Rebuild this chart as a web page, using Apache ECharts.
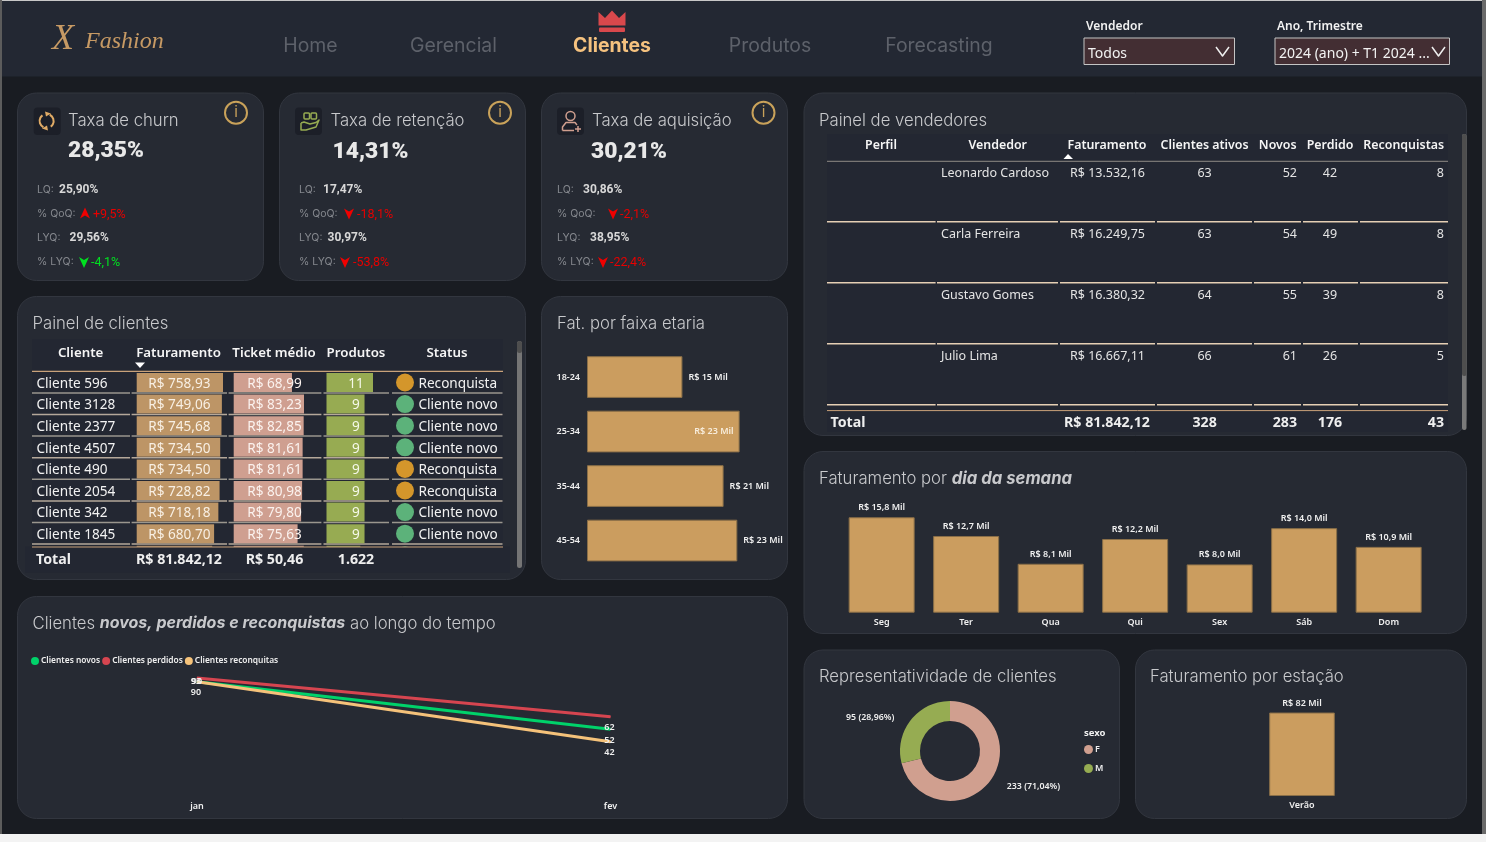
<!DOCTYPE html>
<html><head><meta charset="utf-8">
<script src="https://cdn.jsdelivr.net/npm/echarts@6/dist/echarts.min.js"></script>
<style>html,body{margin:0;padding:0;background:#191c22;overflow:hidden}#c{width:1486px;height:842px}</style>
</head><body><div id="c"></div>
<script>
// ---- data ----
const navItems = ['Home','Gerencial','Clientes','Produtos','Forecasting'];
const kpiTitles = ['Taxa de churn','Taxa de retenção','Taxa de aquisição'];
const kpiValues = ['28,35%','14,31%','30,21%'];
const kpiLQ = ['25,90%','17,47%','30,86%'];
const kpiQoQ = ['+9,5%','-18,1%','-2,1%'];
const kpiLYQ = ['29,56%','30,97%','38,95%'];
const kpiPctLYQ = ['-4,1%','-53,8%','-22,4%'];
const clientNames = ['Cliente 596','Cliente 3128','Cliente 2377','Cliente 4507','Cliente 490','Cliente 2054','Cliente 342','Cliente 1845','Cliente 77'];
const clientRevenue = [758.93,749.06,745.68,734.50,734.50,728.82,718.18,680.70,664.0];
const clientTicket = [68.99,83.23,82.85,81.61,81.61,80.98,79.80,75.63,83.0];
const clientProducts = [11,9,9,9,9,9,9,9,8];
const clientStatus = ['Reconquista','Cliente novo','Cliente novo','Cliente novo','Reconquista','Reconquista','Cliente novo','Cliente novo','Cliente novo'];
const clientHeader = ['Cliente','Faturamento','Ticket médio','Produtos','Status'];
const clientTotals = ['Total','R$ 81.842,12','R$ 50,46','1.622'];
const vendorHeader = ['Perfil','Vendedor','Faturamento','Clientes ativos','Novos','Perdido','Reconquistas'];
const vendorNames = ['Leonardo Cardoso','Carla Ferreira','Gustavo Gomes','Julio Lima'];
const vendorRevenue = ['R$ 13.532,16','R$ 16.249,75','R$ 16.380,32','R$ 16.667,11'];
const vendorActive = [63,63,64,66];
const vendorNew = [52,54,55,61];
const vendorLost = [42,49,39,26];
const vendorBack = [8,8,8,5];
const vendorTotals = ['Total','R$ 81.842,12','328','283','176','43'];
const ageGroups = ['18-24','25-34','35-44','45-54'];
const ageRevenue = [14.6,23.35,20.9,23.0];
const months = ['jan','fev'];
const newClients = [90,52];
const lostClients = [93,62];
const wonBackClients = [90,42];
const weekdays = ['Seg','Ter','Qua','Qui','Sex','Sáb','Dom'];
const weekdayRevenue = [15.8,12.7,8.1,12.2,8.0,14.0,10.9];
const genderNames = ['F','M'];
const genderCounts = [233,95];
const genderPct = ['71,04%','28,96%'];
const seasons = ['Verão'];
const seasonRevenue = [81.84];

// ---- style ----
const TITLE='Inter, sans-serif', TAB='"Noto Sans", sans-serif', KPI='Roboto, sans-serif';
const PANEL='#262a33', BG='#191c22', TBL='#232732', GOLD='#cb9d5f', EDGE='#8a6f48';
const g=[];
function T(x,y,text,o={}){g.push({type:'text',x,y:y+1,z:o.z??1,silent:true,style:{text,fill:o.color||'#eee',
  fontFamily:o.font||TAB,fontSize:o.size||13,fontWeight:o.weight||'normal',fontStyle:o.style||'normal',
  textAlign:o.align||'left',textVerticalAlign:'middle',rich:o.rich}});}
function R(x,y,w,h,fill,o={}){g.push({type:'rect',z:o.z??-2,silent:true,shape:{x,y,width:w,height:h,r:o.r||0},style:{fill,stroke:o.stroke||null,lineWidth:o.lw||0}});}
function L(pts,stroke,lw,o={}){g.push({type:'polyline',z:o.z??1,silent:true,shape:{points:pts},style:{stroke,lineWidth:lw,fill:null,lineCap:o.cap||'butt',lineJoin:'round'}});}
function PG(pts,fill,o={}){g.push({type:'polygon',z:o.z??1,silent:true,shape:{points:pts},style:{fill}});}
function C(cx,cy,r,stroke,lw,fill){g.push({type:'circle',z:1,silent:true,shape:{cx,cy,r},style:{stroke,lineWidth:lw,fill:fill||null}});}
function A(cx,cy,r,s,e,stroke,lw){g.push({type:'arc',z:1,silent:true,shape:{cx,cy,r,startAngle:s,endAngle:e,clockwise:true},style:{stroke,lineWidth:lw,fill:null}});}
function panel(x0,y0,x1,y1){R(x0,y0,x1-x0,y1-y0,PANEL,{r:19,stroke:'#32363f',lw:1});}

// frame
R(0,0,1486,842,BG,{z:-3});
R(0,0,1486,76.5,'#232833',{z:-3});
R(0,0,1486,1,'#c8c8c8',{z:-1});
R(0,0,2,834,'#5c5c5c',{z:-1});
R(1482,0,4,834,'#6a6a6a',{z:-1});
R(0,834,1486,8,'#f3f3f3',{z:-1});

// nav
const logo={font:'"Liberation Serif", serif',style:'italic',color:'#c79a64'};
T(52,38.5,'X',{...logo,size:36});
T(85,40.5,'Fashion',{...logo,size:24});
const navX=[310.5,453.5,612,770,939];
navItems.forEach((n,i)=>T(navX[i],44.8,n,{font:TITLE,size:19.4,align:'center',color:i==2?'#f5c27f':'#5d616a',weight:i==2?'bold':'normal'}));
PG([[598.5,12],[605,18],[612,10.5],[619,18],[625.5,12],[625.5,25.5],[598.5,25.5]],'#d9484c');
R(599,27.5,26,4.5,'#d9484c',{z:1,r:1});
T(1086,25.5,'Vendedor',{size:12,weight:600,color:'#f2f2f2'});
T(1277,25.5,'Ano, Trimestre',{size:12,weight:600,color:'#f2f2f2'});
R(1084,38,150.5,26.5,'#432e33',{z:0,stroke:'#c4c4c4',lw:1});
R(1275,38,174.5,26.5,'#432e33',{z:0,stroke:'#c4c4c4',lw:1});
T(1088,53.5,'Todos',{size:14,color:'#f2f2f2'});
T(1279,53.5,'2024 (ano) + T1 2024 ...',{size:14,color:'#f2f2f2'});
L([[1216,47],[1222.5,56],[1229,47]],'#eee',1.5);
L([[1432,47],[1438.5,56],[1445,47]],'#eee',1.5);

// panels
[[17.5,93,263.5,280.5],[279.5,93,525.5,280.5],[541.5,93,787.5,280.5],[17.5,296.5,525.5,579.5],[541.5,296.5,787.5,579.5],
 [17.5,596.5,787.5,818.5],[804,93,1466.5,435.5],[804,451.5,1466.5,633.5],[804,650,1119.5,818.5],[1135.5,650,1466.5,818.5]].forEach(p=>panel(...p));
const tTitle={font:TITLE,size:16.7,color:'#c8c9cc',weight:300};
T(32.5,323,'Painel de clientes',tTitle);
T(557,323,'Fat. por faixa etaria',tTitle);
T(819,120,'Painel de vendedores',tTitle);
T(819,676,'Representatividade de clientes',tTitle);
T(1150,676,'Faturamento por estação',tTitle);
const richT={b:{fontFamily:TITLE,fontSize:16.7,fontWeight:'bold',fontStyle:'italic',color:'#d4d5d8'},c:{fontFamily:TITLE,fontSize:16,fontWeight:'bold',fontStyle:'italic',color:'#d4d5d8'},a:{fontFamily:TITLE,fontSize:16.7,fontWeight:300,color:'#c8c9cc'}};
T(32.5,622.5,'{a|Clientes }{c|novos, perdidos e reconquistas}{a| ao longo do tempo}',{...tTitle,rich:richT});
T(819,478,'{a|Faturamento por }{b|dia da semana}',{...tTitle,rich:richT});

// KPI cards
const kp=[
 {tx:68,vx:68,vy:150,lx:37,lq:59,lyq:69.5,aq:85,tq:93,al:84,tl:91,chip:33.7,ix:236,up:true,lgood:true},
 {tx:330.5,vx:332.5,vy:151.5,lx:299,lq:323,lyq:327.5,aq:349,tq:357,al:345,tl:353,chip:295,ix:500},
 {tx:592,vx:591,vy:151.5,lx:557,lq:583,lyq:590,aq:613,tq:620,al:603,tl:610,chip:557,ix:763.5}];
function arrow(x,y,up,col){const s=up?1:-1;PG([[x,y-6*s],[x+5,y+5*s],[x,y+2*s],[x-5,y+5*s]],col);}
kp.forEach((k,i)=>{
 T(k.tx,120,kpiTitles[i],{font:TITLE,size:16.7,color:'#c8c9cc',weight:300});
 T(k.vx,k.vy,kpiValues[i],{font:KPI,size:22.8,weight:900,color:'#e8e8e8'});
 const lab={font:TITLE,size:10.5,color:'#85888e'},val={font:KPI,size:12,weight:'bold',color:'#d8d8d8'};
 T(k.lx,189,'LQ:',lab);T(k.lq,189,kpiLQ[i],val);
 T(k.lx,213,'% QoQ:',lab);arrow(k.aq,213.5,!!k.up,'#f00000');
 T(k.tq,214,kpiQoQ[i],{font:KPI,size:12.5,color:'#e60000'});
 T(k.lx,237,'LYQ:',lab);T(k.lyq,237,kpiLYQ[i],val);
 T(k.lx,261,'% LYQ:',lab);arrow(k.al,262,false,k.lgood?'#00e020':'#f00000');
 T(k.tl,262,kpiPctLYQ[i],{font:KPI,size:12.5,color:k.lgood?'#00e020':'#e60000'});
 R(k.chip,107.5,27,27.5,'#1c1f28',{z:0,r:4});
 C(k.ix,112.7,11,'#c9a25a',2);
 T(k.ix,111.7,'i',{font:TITLE,size:15,color:'#c9a25a',align:'center'});
});
// icon: sync
A(46.6,121,7,Math.PI*0.65,Math.PI*1.3,'#e0ab66',2);A(46.6,121,7,Math.PI*1.65,Math.PI*2.3,'#e0ab66',2);
PG([[45,111.5],[51,113.5],[46,116.5]],'#e0ab66');PG([[48,130.5],[42,128.5],[47,125.5]],'#e0ab66');
// icon: retention
L([[301,123],[304,122],[310,124],[316,122.5],[319,120],[316,127],[306,130],[301,130],[301,123]],'#96ac52',1.5);
g.push({type:'rect',z:1,silent:true,shape:{x:304,y:113,width:5.5,height:6,r:1},style:{stroke:'#96ac52',lineWidth:1.5,fill:null}});
g.push({type:'rect',z:1,silent:true,shape:{x:311,y:113,width:5.5,height:6,r:1},style:{stroke:'#96ac52',lineWidth:1.5,fill:null}});
// icon: acquisition
C(570.5,116,4.5,'#d09f8f',1.5);
L([[562.5,130.5],[562.5,127],[566,122.5],[575,122.5],[577,125]],'#d09f8f',1.5);
L([[562.5,130.5],[574,130.5]],'#d09f8f',1.5);
L([[575,129],[581,129]],'#d09f8f',1.5);L([[578,126],[578,132]],'#d09f8f',1.5);

// clients table
R(32,339,471,229,TBL,{z:-1});
const cHeadX=[80.6,178.5,274,356,447];
clientHeader.forEach((h,i)=>T(cHeadX[i],352,h,{size:13.3,weight:600,align:'center',color:'#f5f5f5'}));
PG([[135,362.5],[145,362.5],[140,368]],'#fff');
L([[32,371.3],[503,371.3]],'#c9a27a',1.2);
const rowTop=371.7,rowH=21.6;
const cols=[[32,130],[131.6,227],[228.6,321.4],[323.5,389],[392,502.5]];
for(let i=0;i<8;i++){const y=rowTop+rowH*(i+1)-0.4;
  cols.forEach(c=>L([[c[0],y],[c[1],y]],i%2?'#b5a89a':'#9a968e',1.5,{z:0}));}
R(25,546.8,485,26,TBL,{z:8});
L([[32,547],[503,547]],'#c9a27a',1.2,{z:9});
const ct={size:14.2,weight:'bold',z:9};
T(36,559,clientTotals[0],ct);
T(179,559,clientTotals[1],{...ct,align:'center'});
T(274.5,559,clientTotals[2],{...ct,align:'center'});
T(356,559,clientTotals[3],{...ct,align:'center'});
R(517,341,5,227,'#757575',{z:1,r:2.5});R(517,341,5,12,'#4e4e4e',{z:1,r:2.5});

// vendors table
R(827,134,621,298,TBL,{z:-1});
const vHeadX=[881,997.7,1107,1204.6,1277.7,1330,1403.7];
vendorHeader.forEach((h,i)=>T(vHeadX[i],144,h,{size:12.4,weight:600,align:'center',color:'#f5f5f5'}));
PG([[1063.5,159],[1073,159],[1068,154]],'#fff');
L([[827,161.3],[1448,161.3]],'#8f8b85',1);
const vCols=[[827,935.6],[937,1058],[1060,1155],[1157,1252],[1254,1301],[1303,1358],[1360,1448]];
vendorNames.forEach((n,i)=>{const y=172+i*61,ly=221.7+i*61;
 T(941,y,n,{size:12.5,color:'#e4e4e4'});T(1070,y,vendorRevenue[i],{size:12.5,color:'#e4e4e4'});
 T(1204.6,y,String(vendorActive[i]),{size:12.5,color:'#e4e4e4',align:'center'});
 T(1297,y,String(vendorNew[i]),{size:12.5,color:'#e4e4e4',align:'right'});
 T(1330,y,String(vendorLost[i]),{size:12.5,color:'#e4e4e4',align:'center'});
 T(1444,y,String(vendorBack[i]),{size:12.5,color:'#e4e4e4',align:'right'});
 vCols.forEach(c=>L([[c[0],ly],[c[1],ly]],'#e6cfb4',1.6,{z:0}));
});
L([[827,410.6],[1448,410.6]],'#c9a27a',1);
const vb={size:14.2,weight:'bold'};
T(830.5,421.5,vendorTotals[0],vb);T(1107,421.5,vendorTotals[1],{...vb,align:'center'});T(1204.6,421.5,vendorTotals[2],{...vb,align:'center'});
T(1297,421.5,vendorTotals[3],{...vb,align:'right'});T(1330,421.5,vendorTotals[4],{...vb,align:'center'});T(1444,421.5,vendorTotals[5],{...vb,align:'right'});
R(1462,134,4.5,296,'#7a7a7a',{z:1,r:2});R(1462,134,4.5,242,'#4e4e4e',{z:1,r:2});

// donut legend title
T(1084,732.5,'sexo',{size:9.5,weight:'bold',color:'#f2f2f2'});

// ---- chart helpers ----
const lab9={fontFamily:TAB,fontSize:9,color:'#f0f0f0',fontWeight:600};
const legText={fontFamily:TAB,fontSize:8.4,color:'#f0f0f0',fontWeight:600,padding:[0,0,0,-3]};
const pt=v=>v.toFixed(2).replace('.',',');
const one=v=>v.toFixed(1).replace('.',',');
const hiddenX=(i,max)=>({type:'value',gridIndex:i,min:0,max,show:false});
const catY=i=>({type:'category',gridIndex:i,data:clientNames,inverse:true,axisLine:{show:false},axisTick:{show:false},axisLabel:{show:false}});
function cellBar(i,vals,color,label){return {type:'bar',xAxisIndex:i,yAxisIndex:i,data:vals,barWidth:19,itemStyle:{color},label,animation:false};}
const gridRow={top:rowTop,height:rowH*9};

const option={
 animation:false,backgroundColor:BG,
 graphic:{elements:g},
 legend:[
  {left:26,top:652,itemWidth:8,itemHeight:8,itemGap:2,icon:'circle',textStyle:legText,data:['Clientes novos','Clientes perdidos','Clientes reconquitas']},
  {left:1079,top:740,orient:'vertical',itemWidth:9,itemHeight:9,itemGap:10,icon:'circle',textStyle:{...legText,fontSize:9},data:genderNames}
 ],
 grid:[
  {left:136.7,width:86.3,...gridRow},
  {left:233.7,width:70.3,...gridRow},
  {left:326.5,width:46.5,...gridRow},
  {left:395,width:20,...gridRow},
  {left:587,width:200,top:349.8,height:218},
  {left:197,width:413.5,top:669.25,height:125},
  {left:839.4,width:591.5,top:491.9,height:120.8},
  {left:1220,width:164,top:694,height:102},
  {left:36,width:10,...gridRow}
 ],
 xAxis:[hiddenX(0,758.93),hiddenX(1,83.23),hiddenX(2,11),hiddenX(3,1),
  hiddenX(4,30.6),
  {type:'category',gridIndex:5,data:months,boundaryGap:false,axisLine:{show:false},axisTick:{show:false},axisLabel:{...lab9,margin:8}},
  {type:'category',gridIndex:6,data:weekdays,axisLine:{show:false},axisTick:{show:false},axisLabel:{...lab9,margin:5}},
  {type:'category',gridIndex:7,data:seasons,axisLine:{show:false},axisTick:{show:false},axisLabel:{...lab9,margin:5}},
  hiddenX(8,1)],
 yAxis:[
  catY(0),catY(1),catY(2),catY(3),
  {type:'category',gridIndex:4,data:ageGroups,inverse:true,axisLine:{show:false},axisTick:{show:false},axisLabel:{...lab9,margin:7}},
  {type:'value',gridIndex:5,min:0,max:100,show:false},
  {type:'value',gridIndex:6,min:0,max:20,show:false},
  {type:'value',gridIndex:7,min:0,max:100,show:false},
  catY(8)],
 series:[
  cellBar(0,clientRevenue,'#bd9566',{show:true,position:'insideLeft',distance:11.5,offset:[0,1.5],fontFamily:TAB,fontSize:13.6,color:'#f8efe3',formatter:p=>'R$ '+pt(p.value)}),
  cellBar(1,clientTicket,'#cf9f90',{show:true,position:'insideLeft',distance:13.5,offset:[0,1.5],fontFamily:TAB,fontSize:13.6,color:'#fbf2ee',formatter:p=>'R$ '+pt(p.value)}),
  cellBar(2,clientProducts,'#97ab52',{show:true,position:[29.5,'50%'],align:'center',verticalAlign:'middle',offset:[0,1.5],fontFamily:TAB,fontSize:13.6,color:'#f6f9ea'}),
  {type:'scatter',xAxisIndex:3,yAxisIndex:3,symbolSize:18,
   data:clientStatus.map((s,i)=>({value:[0.5,i],itemStyle:{opacity:1,color:s==='Reconquista'?'#d4962b':'#5cb27a'}})),
   label:{show:true,position:'right',distance:4.5,offset:[0,1.5],fontFamily:TAB,fontSize:13.6,color:'#f2f2f2',formatter:p=>clientStatus[p.dataIndex]}},
  {type:'scatter',xAxisIndex:8,yAxisIndex:8,symbolSize:1,itemStyle:{opacity:1,color:'rgba(0,0,0,0)'},
   data:clientNames.map((n,i)=>[0,i]),
   label:{show:true,position:'right',distance:0,offset:[0,1.5],fontFamily:TAB,fontSize:13.6,color:'#f2f2f2',formatter:p=>clientNames[p.dataIndex]}},
  {type:'bar',xAxisIndex:4,yAxisIndex:4,barWidth:41.7,itemStyle:{color:GOLD,borderColor:EDGE,borderWidth:1},
   data:ageRevenue.map((v,i)=>({value:v,label:i==1?{position:'insideRight',distance:6,color:'#f8eddc'}:{}})),
   label:{show:true,position:'right',distance:6,...lab9,formatter:p=>'R$ '+Math.round(p.value)+' Mil'}},
  ...[['Clientes novos',newClients,'#00d26a',[[0,0],[-1,10.7]]],['Clientes perdidos',lostClients,'#d64550',[[-1,3],[-1,10.7]]],['Clientes reconquitas',wonBackClients,'#f5c27a',[[-1,10.5],[-1,10.7]]]]
   .map(([name,vals,color,off])=>({type:'line',name,xAxisIndex:5,yAxisIndex:5,symbol:'circle',symbolSize:1,color,
     lineStyle:{color,width:3},itemStyle:{color},
     data:vals.map((v,i)=>({value:v,label:{offset:off[i]}})),
     label:{show:true,position:'inside',...lab9}})),
  {type:'bar',xAxisIndex:6,yAxisIndex:6,barWidth:66,data:weekdayRevenue,itemStyle:{color:GOLD,borderColor:EDGE,borderWidth:1},
   label:{show:true,position:'top',distance:5,...lab9,formatter:p=>'R$ '+one(p.value)+' Mil'}},
  {type:'bar',xAxisIndex:7,yAxisIndex:7,barWidth:65.6,data:seasonRevenue,itemStyle:{color:GOLD,borderColor:EDGE,borderWidth:1},
   label:{show:true,position:'top',distance:5,...lab9,formatter:p=>'R$ '+Math.round(p.value)+' Mil'}},
  {type:'pie',center:[950,751],radius:[30,50],startAngle:90,clockwise:true,
   data:genderNames.map((n,i)=>({name:n,value:genderCounts[i],itemStyle:{color:i==0?'#d09f8f':'#96ac52'},
     labelLine:i==0?{length:8,length2:6}:{length:4,length2:8}})),
   label:{...lab9,fontSize:8.8,formatter:p=>genderCounts[p.dataIndex]+' ('+genderPct[p.dataIndex]+')'},
   labelLine:{show:false}}
 ]
};
const chart=echarts.init(document.getElementById('c'),null,{width:1486,height:842});
chart.setOption(option);
</script></body></html>
